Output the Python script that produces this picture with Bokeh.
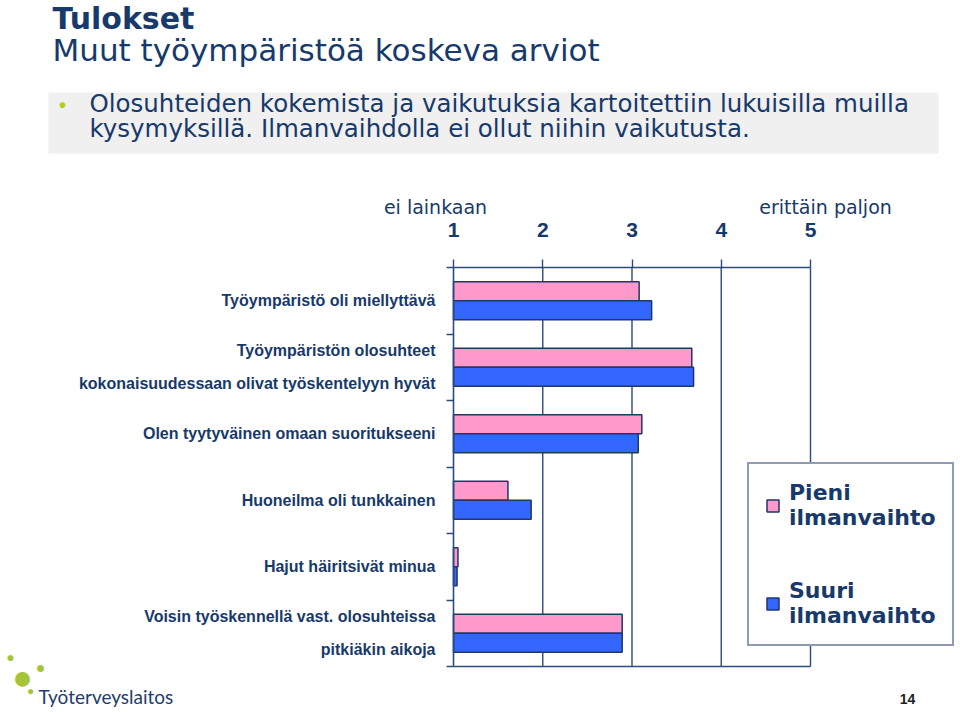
from bokeh.plotting import figure
from bokeh.models import (ColumnDataSource, Range1d, LinearAxis,
                          FixedTicker, Label, BoxAnnotation, Legend, LegendItem)
from bokeh.embed import file_html
from bokeh.resources import INLINE

# ---------------- data ----------------
categories = [
    "Työympäristö oli miellyttävä",
    "Työympäristön olosuhteet\nkokonaisuudessaan olivat työskentelyyn hyvät",
    "Olen tyytyväinen omaan suoritukseeni",
    "Huoneilma oli tunkkainen",
    "Hajut häiritsivät minua",
    "Voisin työskennellä vast. olosuhteissa\npitkiäkin aikoja",
]
pieni = [3.08, 3.67, 3.11, 1.61, 1.05, 2.89]
suuri = [3.22, 3.69, 3.07, 1.87, 1.04, 2.89]
scale_ticks = [1, 2, 3, 4, 5]
scale_labels = ["1", "2", "3", "4", "5"]
scale_low = "ei lainkaan"
scale_high = "erittäin paljon"
series_names = ["Pieni\nilmanvaihto", "Suuri\nilmanvaihto"]

# ---------------- style ----------------
W, H = 960, 712
FL, FR, FT, FB = 453, 810, 267, 666      # plot area in page pixels
NAVY = "#17396B"
AXIS = "#2A4B7C"
PINK = "#FF99CC"
BLUE = "#3366FF"
FONT = "Liberation Sans"
WIDE = "DejaVu Sans"
n = len(categories)

def X(px):
    return scale_ticks[0] + (px - FL) * (scale_ticks[-1] - scale_ticks[0]) / (FR - FL)

def Y(py):
    return (FB - py) * n / (FB - FT)

# category slots, top to bottom
ypos = [n - i - 0.5 for i in range(n)]
bw = 0.285
src = ColumnDataSource(dict(cat=categories, y=ypos, pieni=pieni, suuri=suuri,
                            y_p=[v + bw / 2 for v in ypos], y_s=[v - bw / 2 for v in ypos]))

p = figure(width=W, height=H, output_backend="svg", toolbar_location=None,
           x_range=Range1d(X(0), X(W)), y_range=Range1d(Y(H), Y(0)),
           x_axis_location=None, y_axis_location=None,
           min_border=0, min_border_left=0, min_border_right=0,
           min_border_top=0, min_border_bottom=0)
p.outline_line_color = None
p.background_fill_color = "white"
p.border_fill_color = "white"
p.xgrid.visible = False
p.ygrid.visible = False

# gray bullet box (behind)
box = BoxAnnotation(left=X(48), right=X(938), top=Y(92), bottom=Y(153),
                    fill_color="#F0F0F0", fill_alpha=1, line_color=None, level="underlay")
p.add_layout(box)

# vertical grid lines at scale values
p.segment(x0=scale_ticks[1:], y0=0, x1=scale_ticks[1:], y1=n,
          line_color=AXIS, line_width=1.4)

r1 = p.hbar(y="y_p", left=scale_ticks[0], right="pieni",
            height=bw, source=src, fill_color=PINK, line_color="#1F3864", line_width=1.5)
r2 = p.hbar(y="y_s", left=scale_ticks[0], right="suuri",
            height=bw, source=src, fill_color=BLUE, line_color="#1F3864", line_width=1.5)

# top axis
top = LinearAxis(fixed_location=Y(FT), bounds=(scale_ticks[0], scale_ticks[-1]),
                 ticker=FixedTicker(ticks=scale_ticks),
                 major_label_overrides={t: l for t, l in zip(scale_ticks, scale_labels)},
                 axis_line_color=AXIS, axis_line_width=1.6,
                 major_tick_line_color=AXIS, major_tick_line_width=1.4,
                 major_tick_out=8, major_tick_in=0, minor_tick_line_color=None,
                 major_label_text_font=FONT, major_label_text_font_size="21px",
                 major_label_text_font_style="bold", major_label_text_color=NAVY,
                 major_label_standoff=23)
p.add_layout(top, "above")

# bottom axis line only
bottom = LinearAxis(fixed_location=Y(FB), bounds=(scale_ticks[0], scale_ticks[-1]),
                    ticker=FixedTicker(ticks=[]), axis_line_color=AXIS, axis_line_width=1.6,
                    major_tick_line_color=None, minor_tick_line_color=None,
                    major_label_text_font_size="0px")
p.add_layout(bottom, "below")

# left: boundary ticks + category labels
inner = LinearAxis(fixed_location=X(FL), bounds=(0, n),
                   ticker=FixedTicker(ticks=list(range(n + 1))),
                   major_label_overrides={i: "" for i in range(n + 1)},
                   axis_line_color=AXIS, axis_line_width=1.6,
                   major_tick_line_color=AXIS, major_tick_line_width=1.4,
                   major_tick_out=7, major_tick_in=0, minor_tick_line_color=None,
                   major_label_text_font_size="1px", major_label_standoff=0)
p.add_layout(inner, "left")
outer = LinearAxis(fixed_location=X(FL), ticker=FixedTicker(ticks=ypos),
                   major_label_overrides={y: c for y, c in zip(ypos, categories)},
                   axis_line_color=None, major_tick_line_color=None,
                   minor_tick_line_color=None,
                   major_label_text_font=FONT, major_label_text_font_size="16px",
                   major_label_text_font_style="bold", major_label_text_color=NAVY,
                   major_label_text_line_height=1.95,
                   major_label_standoff=12)
p.add_layout(outer, "left")

legend = Legend(items=[LegendItem(label=series_names[0], renderers=[r1]),
                       LegendItem(label=series_names[1], renderers=[r2])],
                location=(747, H - 646), orientation="vertical",
                border_line_color="#1F3864", border_line_width=2,
                background_fill_color="white", background_fill_alpha=1,
                label_text_font=WIDE, label_text_font_size="22px",
                label_text_font_style="bold", label_text_color=NAVY,
                label_text_line_height=1.3,
                glyph_width=15, glyph_height=15, spacing=48, padding=16, margin=0,
                label_standoff=9)
p.add_layout(legend, "center")

# ---------------- slide texts ----------------
def lab(px, py, text, size, style="normal", color=NAVY, align="left", baseline="middle", font=FONT):
    p.add_layout(Label(x=X(px), y=Y(py), text=text, text_font=font, text_font_size=size,
                       text_font_style=style, text_color=color, text_align=align,
                       text_baseline=baseline))

lab(52, 18, "Tulokset", "30px", "bold", font=WIDE)
lab(52, 49, "Muut työympäristöä koskeva arviot", "31px", font=WIDE)
lab(62, 104, "•", "20px", "bold", color="#B5CC18", align="center")
lab(89, 103, "Olosuhteiden kokemista ja vaikutuksia kartoitettiin lukuisilla muilla", "24.5px",
    font=WIDE)
lab(89, 128, "kysymyksillä. Ilmanvaihdolla ei ollut niihin vaikutusta.", "24.5px",
    font=WIDE)
lab(435, 206, scale_low, "19px", align="center", font=WIDE)
lab(825, 206, scale_high, "19px", align="center", font=WIDE)
lab(907, 698, "14", "14px", "bold", color="#222222", align="center")

# logo
lab(22, 676, "●", "34px", color="#A6C436", align="center")
lab(10, 656, "●", "14px", color="#A6C436", align="center")
lab(40, 667, "●", "16px", color="#A6C436", align="center")
lab(30, 690, "●", "12px", color="#A6C436", align="center")
lab(38, 696, "Työterveyslaitos", "19px", color="#1F3C6E", font="Lato")

open("out.html", "w").write(file_html(p, INLINE))
